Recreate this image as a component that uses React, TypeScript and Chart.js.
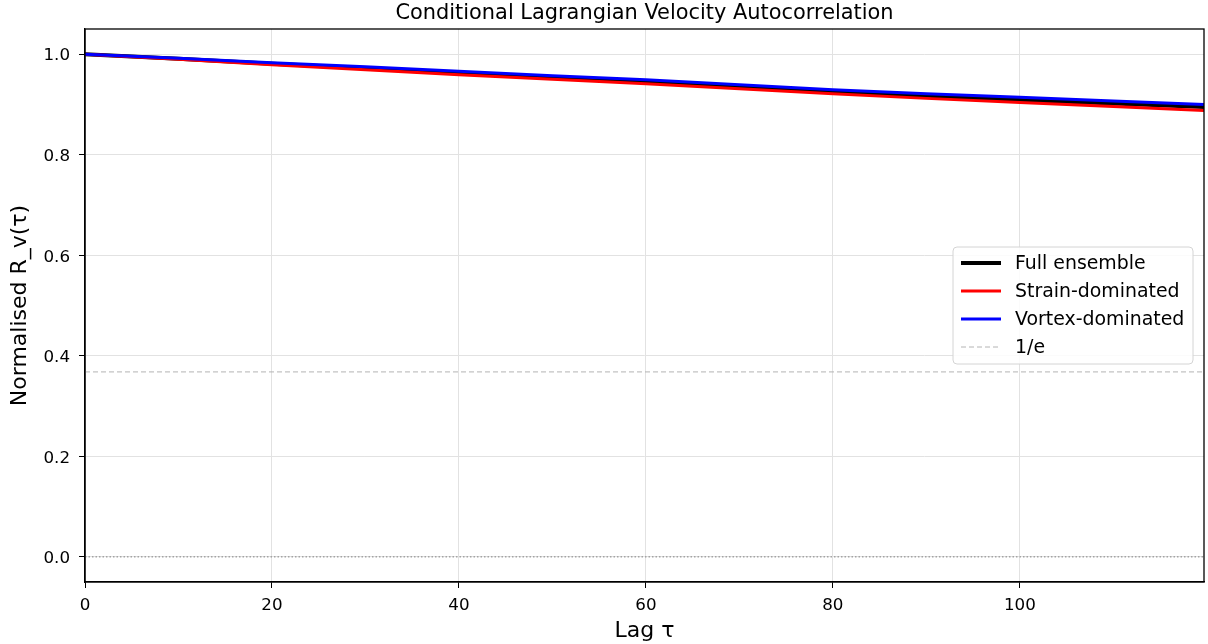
import React, { useEffect, useRef } from "react";
import { Chart, registerables } from "chart.js";

Chart.register(...registerables);

// ---- Data ----
const lags = [0, 10, 20, 30, 40, 50, 60, 70, 80, 90, 100, 110, 119.7];
const fullEnsemble = [1.0, 0.991, 0.981, 0.972, 0.963, 0.954, 0.945, 0.935, 0.925, 0.917, 0.909, 0.902, 0.895];
const strainDominated = [1.0, 0.990, 0.979, 0.969, 0.959, 0.950, 0.941, 0.931, 0.921, 0.912, 0.904, 0.896, 0.888];
const vortexDominated = [1.0, 0.992, 0.983, 0.975, 0.966, 0.957, 0.949, 0.939, 0.929, 0.921, 0.914, 0.907, 0.900];
const invE = 0.3679;
const zeroLevel = 0;
const xTicks = [0, 20, 40, 60, 80, 100];
const yTicks = [0, 0.2, 0.4, 0.6, 0.8, 1.0];
const xRange = [0, 119.7];
const yRange = [-0.05, 1.05];
const titleText = "Conditional Lagrangian Velocity Autocorrelation";
const xTitle = "Lag τ";
const yTitle = "Normalised R_v(τ)";
const legendLabels = ["Full ensemble", "Strain-dominated", "Vortex-dominated", "1/e"];

const FONT = "'DejaVu Sans', sans-serif";

export default function App() {
  const ref = useRef<HTMLCanvasElement | null>(null);

  useEffect(() => {
    document.body.style.margin = "0";
    const canvas = ref.current;
    if (!canvas) return;

    const toPts = (ys: number[]) => lags.map((x, i) => ({ x, y: ys[i] }));
    const flat = (v: number) => [
      { x: xRange[0], y: v },
      { x: xRange[1], y: v },
    ];

    const framePlugin = {
      id: "frameTitleLegend",
      afterDraw(chart: any) {
        const { ctx, chartArea } = chart;
        const { left, right, top, bottom } = chartArea;
        ctx.save();
        // frame
        ctx.strokeStyle = "#000";
        ctx.lineWidth = 1.3;
        ctx.strokeRect(left, top, right - left, bottom - top);
        // title
        ctx.fillStyle = "#000";
        ctx.font = `20.9px ${FONT}`;
        ctx.textAlign = "center";
        ctx.textBaseline = "middle";
        ctx.fillText(titleText, (left + right) / 2, 14);

        // legend
        const bx = 953, by = 247, bw = 240, bh = 117, r = 4;
        ctx.beginPath();
        ctx.moveTo(bx + r, by);
        ctx.lineTo(bx + bw - r, by);
        ctx.quadraticCurveTo(bx + bw, by, bx + bw, by + r);
        ctx.lineTo(bx + bw, by + bh - r);
        ctx.quadraticCurveTo(bx + bw, by + bh, bx + bw - r, by + bh);
        ctx.lineTo(bx + r, by + bh);
        ctx.quadraticCurveTo(bx, by + bh, bx, by + bh - r);
        ctx.lineTo(bx, by + r);
        ctx.quadraticCurveTo(bx, by, bx + r, by);
        ctx.closePath();
        ctx.fillStyle = "rgba(255,255,255,0.85)";
        ctx.fill();
        ctx.strokeStyle = "#d4d4d4";
        ctx.lineWidth = 1;
        ctx.stroke();

        const styles = chart.data.datasets.slice(0, 4);
        ctx.font = `18.9px ${FONT}`;
        ctx.textAlign = "left";
        ctx.textBaseline = "middle";
        styles.forEach((ds: any, i: number) => {
          const y = 263 + i * 28;
          ctx.beginPath();
          ctx.strokeStyle = ds.borderColor;
          ctx.lineWidth = ds.borderWidth;
          ctx.setLineDash(ds.borderDash || []);
          ctx.moveTo(961, y);
          ctx.lineTo(1001, y);
          ctx.stroke();
          ctx.setLineDash([]);
          ctx.fillStyle = "#000";
          ctx.fillText(legendLabels[i], 1015, y + 1);
        });
        ctx.restore();
      },
    };

    const chart = new Chart(canvas, {
      type: "line",
      data: {
        datasets: [
          {
            label: legendLabels[0],
            data: toPts(fullEnsemble),
            borderColor: "#000000",
            borderWidth: 4,
            pointRadius: 0,
            order: 3,
          },
          {
            label: legendLabels[1],
            data: toPts(strainDominated),
            borderColor: "#ff0000",
            borderWidth: 3,
            pointRadius: 0,
            order: 2,
          },
          {
            label: legendLabels[2],
            data: toPts(vortexDominated),
            borderColor: "#0000ff",
            borderWidth: 3,
            pointRadius: 0,
            order: 1,
          },
          {
            label: legendLabels[3],
            data: flat(invE),
            borderColor: "#b4b4b4",
            borderWidth: 1,
            borderDash: [5, 3],
            pointRadius: 0,
            order: 4,
          },
          {
            label: "zero",
            data: flat(zeroLevel),
            borderColor: "#808080",
            borderWidth: 1,
            borderDash: [1.5, 2],
            pointRadius: 0,
            order: 5,
          },
        ],
      },
      options: {
        animation: false,
        responsive: false,
        devicePixelRatio: 1,
        layout: { padding: { left: 0, right: 4, top: 29, bottom: 0 } },
        plugins: {
          legend: { display: false },
          title: { display: false },
          tooltip: { enabled: false },
        },
        scales: {
          x: {
            type: "linear",
            min: xRange[0],
            max: xRange[1],
            afterBuildTicks: (s: any) => {
              s.ticks = xTicks.map((v) => ({ value: v }));
            },
            afterFit: (s: any) => {
              s.height = 62;
            },
            grid: { color: "#e2e2e2", lineWidth: 1, tickColor: "#000", tickLength: 6 },
            border: { color: "#000", width: 1.3 },
            ticks: {
              color: "#000",
              font: { family: FONT, size: 16.7 },
              padding: 8,
              maxRotation: 0,
              autoSkip: false,
              callback: (v: any) => String(v),
            },
            title: {
              display: true,
              text: xTitle,
              color: "#000",
              font: { family: FONT, size: 22 },
              padding: { top: 0, bottom: 0 },
            },
          },
          y: {
            type: "linear",
            min: yRange[0],
            max: yRange[1],
            afterBuildTicks: (s: any) => {
              s.ticks = yTicks.map((v) => ({ value: v }));
            },
            afterFit: (s: any) => {
              s.width = 85;
            },
            grid: { color: "#e2e2e2", lineWidth: 1, tickColor: "#000", tickLength: 6 },
            border: { color: "#000", width: 1.3 },
            ticks: {
              color: "#000",
              font: { family: FONT, size: 16.7 },
              padding: 9,
              labelOffset: 2,
              autoSkip: false,
              callback: (v: any) => Number(v).toFixed(1),
            },
            title: {
              display: true,
              text: yTitle,
              color: "#000",
              font: { family: FONT, size: 22 },
              padding: { top: 7, bottom: 0 },
            },
          },
        },
      },
      plugins: [framePlugin],
    });

    return () => chart.destroy();
  }, []);

  return (
    <div style={{ position: "absolute", left: 0, top: 0, width: 1208, height: 644 }}>
      <canvas ref={ref} width={1208} height={644} style={{ display: "block" }} />
    </div>
  );
}
